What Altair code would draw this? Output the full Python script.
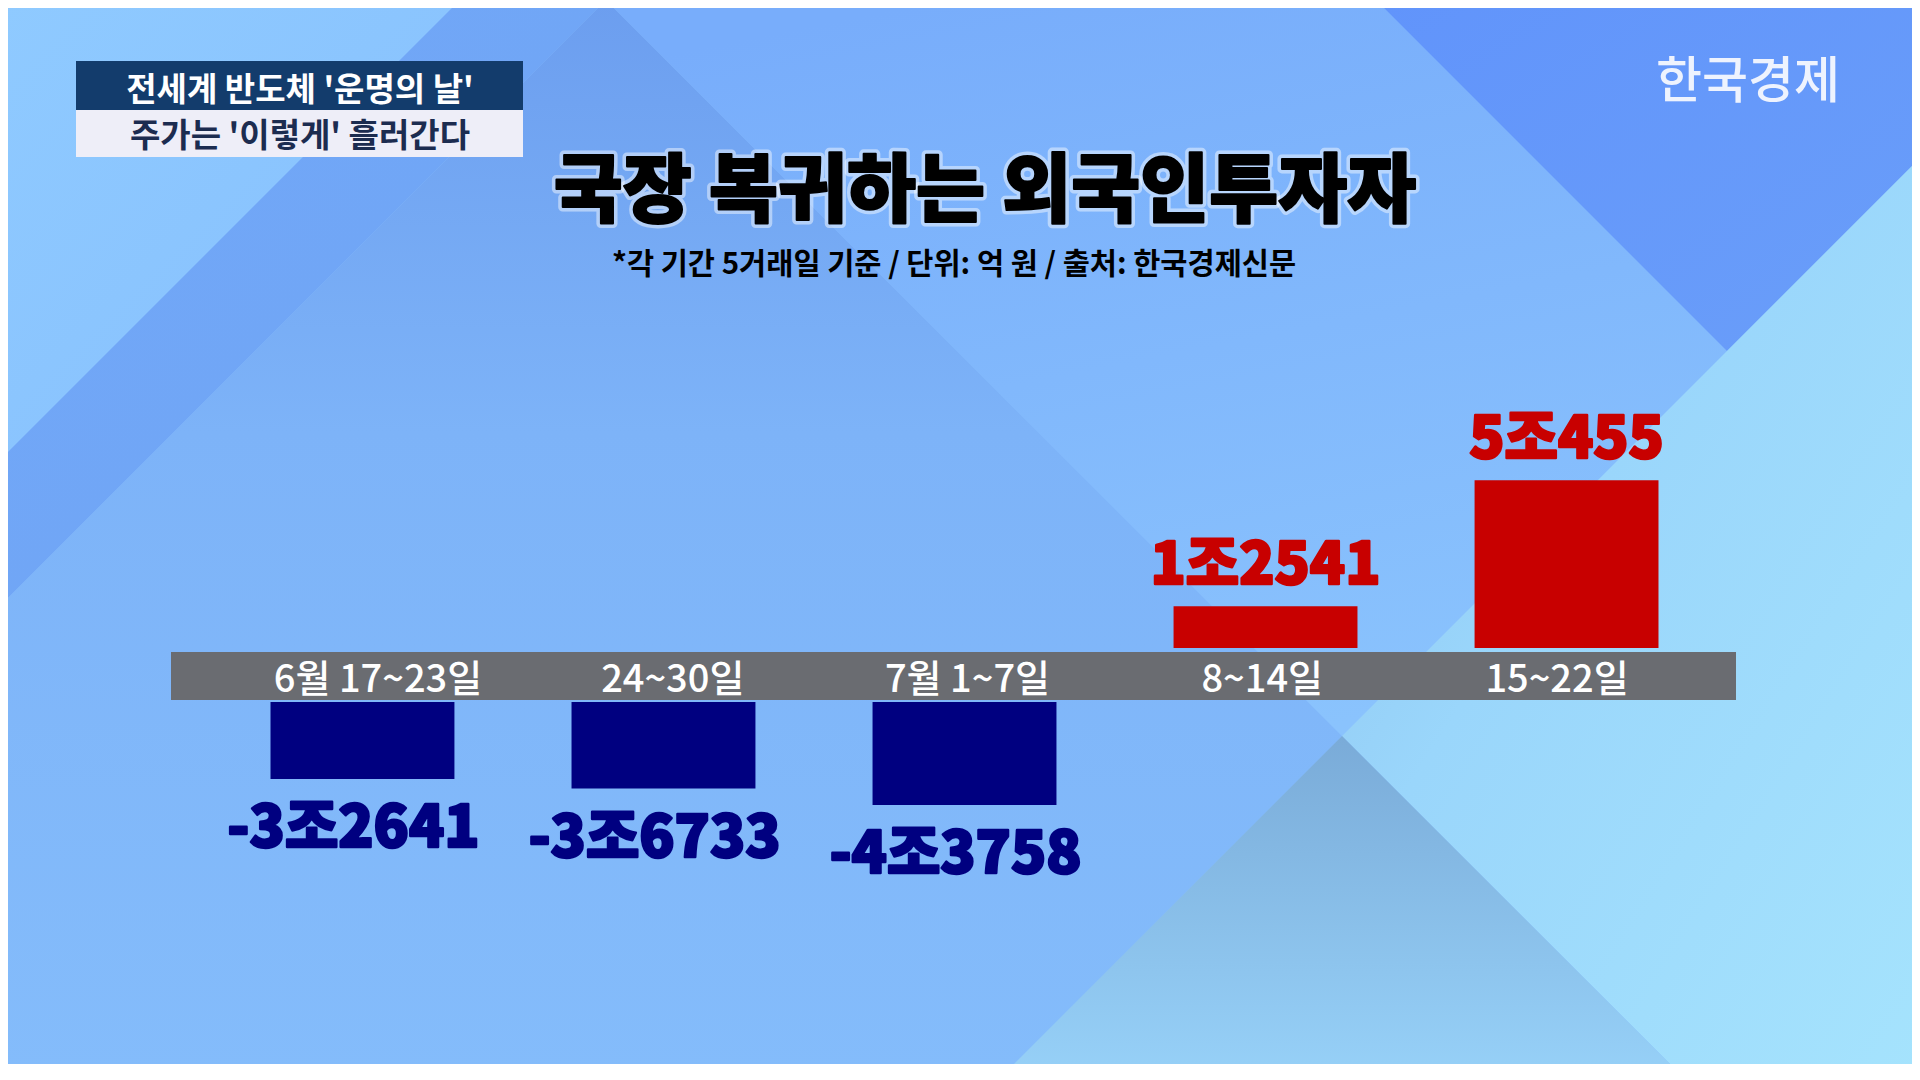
import altair as alt
import pandas as pd

# ---------------- data ----------------
categories = ["6월 17~23일", "24~30일", "7월 1~7일", "8~14일", "15~22일"]
values = [-32641, -36733, -43758, 12541, 50455]          # 억 원
labels = ["-3조2641", "-3조6733", "-4조3758", "1조2541", "5조455"]

header_line1 = "전세계 반도체 '운명의 날'"
header_line2 = "주가는 '이렇게' 흘러간다"
title_text = "국장 복귀하는 외국인투자자"
subtitle_text = "*각 기간 5거래일 기준 / 단위: 억 원 / 출처: 한국경제신문"
logo_text = "한국경제"

df = pd.DataFrame({"period": categories, "value": values, "label": labels})

FONT = "Noto Sans CJK KR"
OFF = 8  # page margin: reference pixel -> chart pixel
W, H = 1904, 1056

# ---------------- background decoration ----------------
def poly(pts):
    ring = [[x - OFF, y - OFF] for x, y in pts + [pts[0]]]
    return {"type": "Feature", "properties": {},
            "geometry": {"type": "Polygon", "coordinates": [ring]}}

def grad(stops, x1=0, y1=0, x2=0, y2=1):
    return alt.LinearGradient(
        gradient="linear",
        stops=[alt.GradientStop(offset=o, color=c) for o, c in stops],
        x1=x1, y1=y1, x2=x2, y2=y2)

shapes = [
    ([(0, 0), (460, 0), (0, 460)], grad([(0, "#8fcaff"), (1, "#86bffd")], 0, 0, 1, 1)),
    ([(460, 0), (606, 0), (0, 606), (0, 460)], grad([(0, "#72a8f8"), (1, "#6fa4f4")], 0, 0, 1, 1)),
    ([(606, 0), (1342, 736), (998, 1080), (0, 1080), (0, 606)],
     grad([(0, "#6c9eef"), (0.4, "#7db3f8"), (1, "#84bcfb")], 0.5, 0, 0.5, 1)),
    ([(606, 0), (1376, 0), (1727, 351), (1342, 736)],
     grad([(0, "#78adfb"), (1, "#8ac3fd")], 0.3, 0, 0.6, 1)),
    ([(1376, 0), (1920, 0), (1920, 158), (1727, 351)],
     grad([(0, "#6194fb"), (1, "#6a9ef9")], 0, 0, 1, 1)),
    ([(1920, 158), (1920, 1080), (1686, 1080), (1342, 736)],
     grad([(0, "#8cc1ec"), (0.4, "#9ad6fb"), (1, "#a5e3fd")], 0, 0, 1, 1)),
    ([(1342, 736), (1686, 1080), (998, 1080)],
     grad([(0, "#7aabd8"), (1, "#97d1f8")], 0.5, 0, 0.5, 1)),
]

proj = dict(type="identity", scale=1, translate=[0, 0])
bg_layers = [
    alt.Chart(alt.Data(values=[poly(p)])).mark_geoshape(fill=f, strokeWidth=0).project(**proj)
    for p, f in shapes
]

one = pd.DataFrame({"a": [0]})

# header box (top-left)
hdr_dark = alt.Chart(one).mark_rect(fill="#133c6c").encode(
    x=alt.value(76 - OFF), x2=alt.value(523 - OFF), y=alt.value(61 - OFF), y2=alt.value(110 - OFF))
hdr_light = alt.Chart(one).mark_rect(fill="#eeeef8").encode(
    x=alt.value(76 - OFF), x2=alt.value(523 - OFF), y=alt.value(110 - OFF), y2=alt.value(157 - OFF))
hdr_t1 = alt.Chart(pd.DataFrame({"t": [header_line1]})).mark_text(
    font=FONT, fontSize=33, fontWeight="bold", color="white", align="center", baseline="alphabetic"
).encode(text="t:N", x=alt.value(300 - OFF), y=alt.value(101 - OFF))
hdr_t2 = alt.Chart(pd.DataFrame({"t": [header_line2]})).mark_text(
    font=FONT, fontSize=33, fontWeight="bold", color="#1c2c50", align="center", baseline="alphabetic"
).encode(text="t:N", x=alt.value(300 - OFF), y=alt.value(147 - OFF))

# title with glow
title_df = pd.DataFrame({"t": [title_text]})
title_glow = alt.Chart(title_df).mark_text(
    font=FONT, fontSize=75, fontWeight=900, color="black", stroke="white", strokeWidth=9,
    strokeOpacity=0.45, strokeJoin="round", align="center", baseline="alphabetic"
).encode(text="t:N", x=alt.value(985 - OFF), y=alt.value(216 - OFF))
title = alt.Chart(title_df).mark_text(
    font=FONT, fontSize=75, fontWeight=900, color="black", stroke="black", strokeWidth=2,
    strokeJoin="round", align="center", baseline="alphabetic"
).encode(text="t:N", x=alt.value(985 - OFF), y=alt.value(216 - OFF))

subtitle = alt.Chart(pd.DataFrame({"t": [subtitle_text]})).mark_text(
    font=FONT, fontSize=29.5, fontWeight="bold", color="black", align="center", baseline="alphabetic"
).encode(text="t:N", x=alt.value(954 - OFF), y=alt.value(274 - OFF))

logo = alt.Chart(pd.DataFrame({"t": [logo_text]})).mark_text(
    font=FONT, fontSize=50, fontWeight=500, color="#eef3fe", align="center", baseline="alphabetic"
).encode(text="t:N", x=alt.value(1748 - OFF), y=alt.value(98 - OFF))

# gray category band
band = alt.Chart(one).mark_rect(fill="#6a6c71").encode(
    x=alt.value(171 - OFF), x2=alt.value(1736 - OFF), y=alt.value(652 - OFF), y2=alt.value(700 - OFF))

# ---------------- data marks ----------------
xenc = alt.X("period:N", sort=categories,
             scale=alt.Scale(domain=categories, range=[120 - OFF, 1809 - OFF],
                             paddingInner=0.389, paddingOuter=0.5),
             axis=None)
xlab = alt.X("period:N", sort=categories,
             scale=alt.Scale(type="point", domain=categories, range=[378 - OFF, 1557 - OFF], padding=0),
             axis=None)

pos_y = alt.Y("value:Q", axis=None,
              scale=alt.Scale(domain=[0, 60000], range=[648 - OFF, 648 - OFF - 60 * 3.326], nice=False))
neg_y = alt.Y("value:Q", axis=None,
              scale=alt.Scale(domain=[-60000, 0], range=[702 - OFF + 60 * 2.356, 702 - OFF], nice=False))

base = alt.Chart(df)

pos_bars = base.transform_filter("datum.value > 0").mark_bar(color="#c80000").encode(
    x=xenc, y=pos_y, y2=alt.datum(0))
pos_text = base.transform_filter("datum.value > 0").mark_text(
    font=FONT, fontSize=58, fontWeight=900, color="#c80000", stroke="#c80000", strokeWidth=2.5,
    strokeJoin="round", baseline="alphabetic", dy=-22
).encode(x=xenc, y=pos_y, text="label:N")
pos_layer = alt.layer(pos_bars, pos_text)

neg_bars = base.transform_filter("datum.value < 0").mark_bar(color="#000080").encode(
    x=xenc, y=neg_y, y2=alt.datum(0))
neg_text = base.transform_filter("datum.value < 0").mark_text(
    font=FONT, fontSize=58, fontWeight=900, color="#000080", stroke="#000080", strokeWidth=2.5,
    strokeJoin="round", baseline="top", dy=22, dx=-9
).encode(x=xenc, y=neg_y, text="label:N")
neg_layer = alt.layer(neg_bars, neg_text)

cat_text = base.mark_text(
    font=FONT, fontSize=38, fontWeight=500, color="white", baseline="alphabetic"
).encode(x=xlab, y=alt.value(692 - OFF), text="period:N")

chart = alt.layer(
    *bg_layers, hdr_dark, hdr_light, hdr_t1, hdr_t2, title_glow, title, subtitle, logo,
    band, pos_layer, neg_layer, cat_text
).resolve_scale(x="independent", y="independent").properties(
    width=W, height=H, padding=0, background="#85bcfc",
    autosize=alt.AutoSizeParams(type="none")
).configure_view(strokeWidth=0)

chart.save("out.html", embed_options={"renderer": "svg", "actions": False})
